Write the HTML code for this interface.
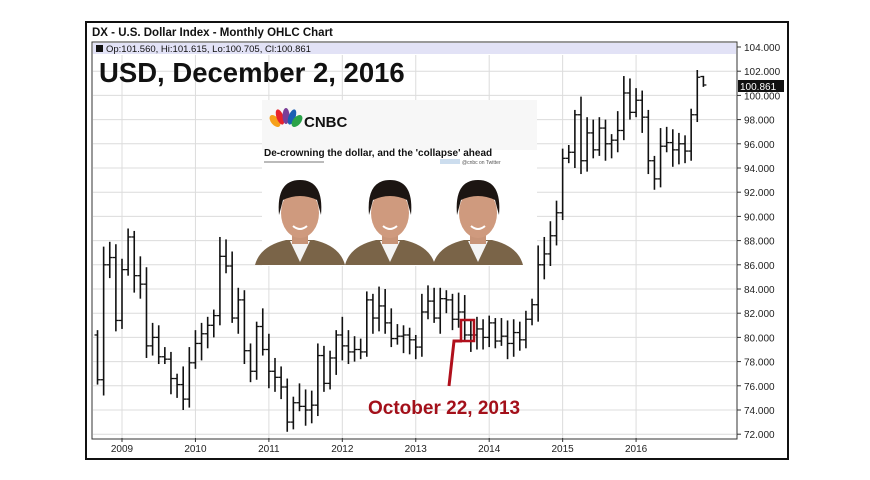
<!DOCTYPE html>
<html><head><meta charset="utf-8"><style>
html,body{margin:0;padding:0;background:#fff;width:870px;height:480px;overflow:hidden}
svg{display:block;font-family:"Liberation Sans",sans-serif}
</style></head><body>
<svg id="s" width="870" height="480" viewBox="0 0 870 480">
<rect x="0" y="0" width="870" height="480" fill="#fff"/>
<rect x="86" y="22" width="702" height="437" fill="#fff" stroke="#111" stroke-width="2"/>
<text x="92" y="36" font-size="11.5" font-weight="bold" fill="#111">DX - U.S. Dollar Index - Monthly OHLC Chart</text>
<rect x="92" y="42" width="645" height="397" fill="#fff" stroke="#333" stroke-width="1"/>
<rect x="93" y="43" width="643" height="11" fill="#e2e2f6"/>
<g id="grid"></g>
<rect x="96" y="45" width="7" height="7" fill="#111"/>
<text x="106" y="52" font-size="9.5" fill="#111">Op:101.560, Hi:101.615, Lo:100.705, Cl:100.861</text>
<text x="99" y="82" font-size="27.5" font-weight="bold" fill="#111">USD, December 2, 2016</text>
<g id="bars"></g>
<!-- CNBC panel -->
<rect x="262" y="100" width="275" height="166" fill="#fff"/>
<rect x="262" y="100" width="275" height="50" fill="#f7f7f7"/>
<g transform="translate(270,108)">
<ellipse cx="5" cy="13" rx="4" ry="7" fill="#f6a01a" transform="rotate(-40 5 13)"/>
<ellipse cx="10" cy="9" rx="3.5" ry="8" fill="#e8242c" transform="rotate(-20 10 9)"/>
<ellipse cx="16" cy="8" rx="3.5" ry="8" fill="#7b3f98"/>
<ellipse cx="22" cy="9" rx="3.5" ry="8" fill="#1a5fb4" transform="rotate(20 22 9)"/>
<ellipse cx="27" cy="13" rx="4" ry="7" fill="#2aa349" transform="rotate(40 27 13)"/>
<text x="34" y="19" font-size="15" font-weight="bold" fill="#111">CNBC</text>
</g>
<text x="264" y="156" font-size="10" font-weight="bold" fill="#111">De-crowning the dollar, and the 'collapse' ahead</text>
<rect x="264" y="161" width="60" height="2" fill="#bbb"/>
<rect x="440" y="159" width="20" height="5" fill="#cde"/>
<text x="462" y="164" font-size="5" fill="#555">@cnbc on Twitter</text>
<g id="faces"></g>
<g id="ylab"></g>
<rect x="738" y="80" width="46" height="12" fill="#111"/>
<text x="740" y="90" font-size="10" fill="#fff">100.861</text>
<rect x="461" y="320" width="13" height="21" fill="none" stroke="#b0101c" stroke-width="2.5"/>
<polyline points="449,386 454,341 462,341" fill="none" stroke="#b0101c" stroke-width="3"/>
<text x="368" y="414" font-size="19" font-weight="bold" fill="#a3101a">October 22, 2013</text>
</svg>
<script>
var NS="http://www.w3.org/2000/svg";
function el(p,t,a,txt){var e=document.createElementNS(NS,t);for(var k in a)e.setAttribute(k,a[k]);if(txt!=null)e.textContent=txt;var P=document.getElementById(p);P.appendChild(e);return e;}
function Y(v){return 47+(104-v)*12.1;}
for(var v=72;v<=104;v+=2){var y=Y(v);
 if(v<104)el("grid","line",{x1:93,x2:736,y1:y,y2:y,stroke:"#dcdcdc","stroke-width":1});
 el("ylab","line",{x1:737,x2:741,y1:y,y2:y,stroke:"#333"});
 el("ylab","text",{x:744,y:y+4,"font-size":10,fill:"#222"},v.toFixed(3));}
var yrs=[2009,2010,2011,2012,2013,2014,2015,2016];
var X0=122-4*6.12;
function X(i){return X0+i*6.12;}
yrs.forEach(function(yr,k){var x=X(4+12*k);
 el("grid","line",{x1:x,x2:x,y1:55,y2:438,stroke:"#dcdcdc"});
 el("grid","line",{x1:x,x2:x,y1:438,y2:442,stroke:"#333"});
 el("ylab","text",{x:x,y:452,"font-size":10,fill:"#222","text-anchor":"middle"},yr);});
var C=[76.5,86.0,86.6,81.4,
85.6,88.3,85.1,84.4,79.3,80.0,78.4,78.2,76.6,76.1,74.9,77.9,
79.5,80.3,81.0,81.8,86.7,85.9,81.6,83.1,78.9,77.2,80.9,79.0,
77.2,76.7,75.9,73.0,74.6,74.3,74.0,74.4,78.5,76.2,78.3,80.2,
79.3,78.8,79.0,78.8,83.1,81.6,82.6,81.2,79.9,80.1,80.2,79.8,
79.2,82.1,83.0,81.6,83.2,83.1,81.5,82.1,80.2,80.2,80.7,80.0,
81.2,79.7,80.1,79.5,80.4,79.8,81.5,82.7,86.0,86.9,88.4,90.3,
94.8,95.3,98.4,94.6,96.9,95.5,97.3,96.0,96.3,97.1,100.2,98.6,
99.6,98.2,94.6,93.1,95.8,96.1,95.5,96.0,95.4,98.4,101.5,100.86];
var prev=80.2;
for(var i=0;i<C.length;i++){var o=prev,c=C[i];
 var r1=0.4+((i*37)%13)/10,r2=0.4+((i*53)%11)/10;
 var h=Math.max(o,c)+r1,l=Math.min(o,c)-r2;
 if(i==C.length-1){o=101.56;h=101.615;l=100.705;}
 if(i==C.length-2){h=102.1;}
 var x=X(i);
 el("bars","line",{x1:x,x2:x,y1:Y(h),y2:Y(l),stroke:"#111","stroke-width":1.6});
 el("bars","line",{x1:x-3,x2:x,y1:Y(o),y2:Y(o),stroke:"#111","stroke-width":1.3});
 el("bars","line",{x1:x,x2:x+3,y1:Y(c),y2:Y(c),stroke:"#111","stroke-width":1.3});
 prev=c;}
[300,390,478].forEach(function(cx){
 el("faces","path",{d:"M"+(cx-45)+",265 Q"+(cx-40)+",246 "+(cx-14)+",240 L"+(cx+14)+",240 Q"+(cx+40)+",246 "+(cx+45)+",265 Z",fill:"#7a6448"});
 el("faces","path",{d:"M"+(cx-10)+",241 L"+cx+",262 L"+(cx+10)+",241 Z",fill:"#f4f4f4"});
 el("faces","rect",{x:cx-8,y:228,width:16,height:16,fill:"#c89478"});
 el("faces","ellipse",{cx:cx,cy:213,rx:19,ry:25,fill:"#cf9a7e"});
 el("faces","path",{d:"M"+(cx-21)+",215 Q"+(cx-24)+",180 "+cx+",180 Q"+(cx+24)+",180 "+(cx+21)+",215 L"+(cx+17)+",200 Q"+cx+",192 "+(cx-17)+",200 Z",fill:"#1c1512"});
 el("faces","path",{d:"M"+(cx-7)+",226 Q"+cx+",232 "+(cx+7)+",226",stroke:"#fff","stroke-width":2,fill:"none"});
});
</script>
</body></html>
